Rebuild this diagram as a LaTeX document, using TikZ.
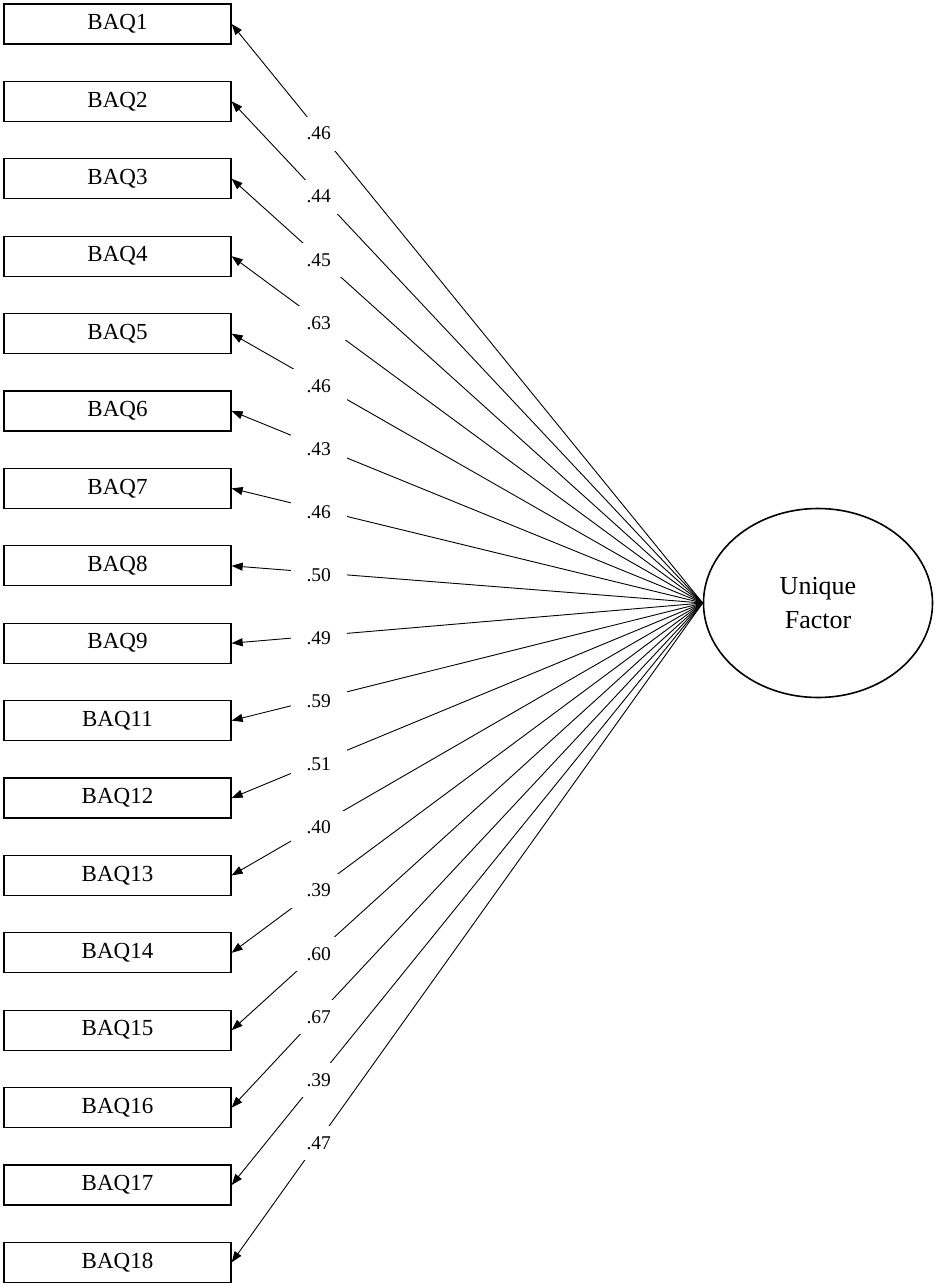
\documentclass[tikz,border=0pt]{standalone}
\usepackage{fontspec}
\setmainfont{Liberation Serif}
\usetikzlibrary{shapes,arrows.meta}

\begin{document}
\begin{tikzpicture}[x=1pt,y=-1pt,
	item/.style={rectangle,draw,line width=1.3pt,minimum width=227pt,minimum height=40pt,inner sep=0pt,font=\fontsize{23}{27}\selectfont},
	factor/.style={ellipse,draw,line width=1.6pt,minimum width=229pt,minimum height=189pt,align=center,font=\fontsize{26}{34}\selectfont},
	load/.style={fill=white,inner sep=0pt,minimum width=56pt,minimum height=34pt,font=\fontsize{19.5}{22}\selectfont},
	loading/.style={line width=0.9pt,-{Triangle[length=11pt,width=8pt]}}]
\useasboundingbox (0,0) rectangle (935,1287);

\node [factor] (uf) at (818,603) {Unique\\Factor};

\foreach \n/\w [count=\i from 0] in {1/.46,2/.44,3/.45,4/.63,5/.46,6/.43,7/.46,8/.50,9/.49,
	11/.59,12/.51,13/.40,14/.39,15/.60,16/.67,17/.39,18/.47}
{
	\node [item] (q\n) at (117.5,{24+77.4*\i}) {BAQ\n};
	\draw [loading] (uf.west) -- (q\n.east) node [load,pos=0.815,yshift=-2.5pt] {\w};
}
\end{tikzpicture}
\end{document}
